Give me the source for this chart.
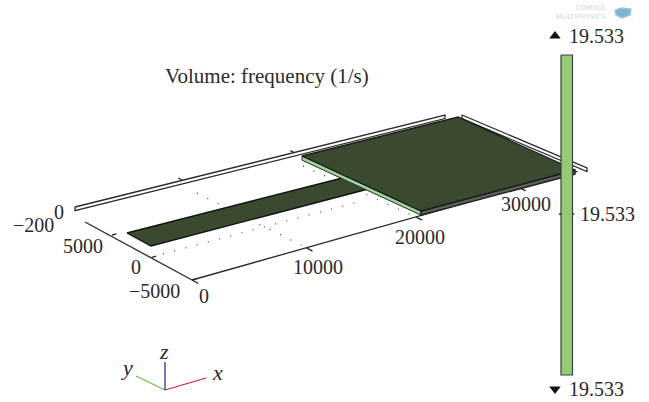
import numpy as np, plotly.graph_objects as go

# --- data (model coordinates: x, y) ---
plate_x = [19670, 35417, 36298, 20608]
plate_y = [10260, 10502, -4556, -4231]
strip_x = [1004, 1048, 20268, 19940]
strip_y = [4716, 1749, 1740, 4736]
band_long_x = [697, 34763]
band_long_y = [10884, 11467]
band_short_x = [35994, 37443]
band_short_y = [10697, -4791]
dots_long_x = [925, 18030]
dots_long_y = [47, 67]
dots_x1 = [9028, 9548]
dots_y1 = [8320, -4800]
dots_x2 = [18531, 19578]
dots_y2 = [8473, -4973]
x_tick_pos = [0, 9548, 19578, 30000]
x_tick_text = ["0", "10000", "20000", "30000"]
y_tick_pos = [-5000, 0, 5000]
y_tick_text = ["\u22125000", "0", "5000"]
z_tick_text = ["0", "\u2212200"]
freq_min = freq_mid = freq_max = "19.533"
title_text = "Volume: frequency (1/s)"

# --- view: calibration of the model plane to the 649x402 view ---
src = [(0, -5000), (30000, -5000), (0, 5000), (30000, 5000)]
dst = [(192, 280), (520, 188), (112, 235), (446, 150)]
A, b = [], []
for (x, y), (u, v) in zip(src, dst):
    A.append([x, y, 1, 0, 0, 0, -u * x, -u * y]); b.append(u)
    A.append([0, 0, 0, x, y, 1, -v * x, -v * y]); b.append(v)
H = np.append(np.linalg.solve(np.array(A, float), np.array(b, float)), 1).reshape(3, 3)
Z_SCALE = 0.018

def proj(xs, ys, z=0):
    xs, ys = np.asarray(xs, float), np.asarray(ys, float)
    w = H[2, 0] * xs + H[2, 1] * ys + 1
    u = (H[0, 0] * xs + H[0, 1] * ys + H[0, 2]) / w
    v = (H[1, 0] * xs + H[1, 1] * ys + H[1, 2]) / w
    return u.tolist(), (v - z * Z_SCALE).tolist()

fig = go.Figure()
INK = "#2a2a2a"
FONT = "Liberation Serif"

def line(u, v, color=INK, width=1.3, dash=None, fill=None, fillcolor=None):
    fig.add_trace(go.Scatter(x=u, y=v, mode="lines", hoverinfo="skip", showlegend=False,
                             line=dict(color=color, width=width, dash=dash),
                             fill=fill, fillcolor=fillcolor))

def band(xs, ys):
    u0, v0 = proj(xs, ys, 0)
    u1, v1 = proj(xs, ys, -200)
    line(u0 + u1[::-1] + u0[:1], v0 + v1[::-1] + v0[:1], fill="toself", fillcolor="white")

# frame bands
band(band_long_x, band_long_y)
band(band_short_x, band_short_y)
u, v = proj([9548, 9548], [11050, 11600]); line(u, v)
u, v = proj([19578, 19578], [11150, 11700]); line(u, v)

# dotted grid
DOT = "1px,10.6px"
for xs, ys in [(dots_long_x, dots_long_y), (dots_x1, dots_y1), (dots_x2, dots_y2)]:
    u, v = proj(xs, ys)
    line(u, v, color="#222222", width=1.1, dash=DOT)

# axes and ticks
u, v = proj([0, 36298], [-5000, -4900]); line(u, v)
u, v = proj([-210, 0], [8098, -5000]); line(u, v)
for t in x_tick_pos:
    u, v = proj([t, t], [-5000, -5750]); line(u, v)
for t in y_tick_pos:
    u, v = proj([0, 350], [t, t]); line(u, v)

# strip
u, v = proj(strip_x + strip_x[:1], strip_y + strip_y[:1])
line(u, v, fill="toself", fillcolor="#3a4a31", color="#111111")

# plate sides and top
GREEN_IDX = [0, 3]
DARK_IDX = [3, 2]
SIDE_Z = -230
u0, v0 = proj([plate_x[i] for i in GREEN_IDX], [plate_y[i] for i in GREEN_IDX], 0)
u1, v1 = proj([plate_x[i] for i in GREEN_IDX], [plate_y[i] for i in GREEN_IDX], SIDE_Z)
line(u0 + u1[::-1] + u0[:1], v0 + v1[::-1] + v0[:1], fill="toself", fillcolor="#9fd69a", color="#2a2a2a", width=1)
u0, v0 = proj([plate_x[i] for i in DARK_IDX], [plate_y[i] for i in DARK_IDX], 0)
u1, v1 = proj([plate_x[i] for i in DARK_IDX], [plate_y[i] for i in DARK_IDX], SIDE_Z)
line(u0 + u1[::-1] + u0[:1], v0 + v1[::-1] + v0[:1], fill="toself", fillcolor="#5a5f58", color="#1c1c1c")
u, v = proj(plate_x + plate_x[:1], plate_y + plate_y[:1])
line(u, v, fill="toself", fillcolor="#3a4a31", color="#1a1a1a")

# colour bar
cb_l, cb_r, cb_t, cb_b = 561, 572.5, 55, 375
line([cb_l, cb_r, cb_r, cb_l, cb_l], [cb_t, cb_t, cb_b, cb_b, cb_t], color="#3d3d3d", width=1.2,
     fill="toself", fillcolor="#93cc75")
line([cb_l - 2, cb_l], [214, 214])
line([cb_r, cb_r + 2], [214, 214])
fig.add_trace(go.Scatter(x=[555, 555], y=[36, 389], mode="markers", hoverinfo="skip", showlegend=False,
                         marker=dict(symbol=["triangle-up", "triangle-down"], size=10, color="#111111")))

# triad
line([165, 206], [390, 378], color="#c0272d", width=1.2)
line([165, 136], [390, 376], color="#6fbf44", width=1.2)
line([165, 165], [390, 362], color="#1b1f7a", width=1.2)

def label(u, v, text, size=20, color=INK, anchor="center", family=FONT, align="center"):
    fig.add_annotation(x=u, y=v, xref="x", yref="y", text=text, showarrow=False, xanchor=anchor, yanchor="middle",
                       align=align, font=dict(family=family, size=size, color=color))

label(266.5, 76, title_text, size=21)
for (u, v), t in zip([(204, 296), (318, 267), (420, 237), (526, 204)], x_tick_text):
    label(u, v, t)
for (u, v), t in zip([(154, 291), (136, 267), (83, 246)], y_tick_text):
    label(u, v, t)
for (u, v), t in zip([(59, 212), (33, 225)], z_tick_text):
    label(u, v, t)
label(596, 36, freq_max)
label(607, 214, freq_mid)
label(596, 389, freq_min)
label(217, 372, "<i>x</i>", size=22)
label(127, 367, "<i>y</i>", size=22)
label(164, 351, "<i>z</i>", size=22)

# logo
label(609, 12.5, "COMSOL<br>MULTIPHYSICS", size=7, color="#d3d9de", anchor="right", family="DejaVu Sans", align="right")
line([615, 622, 631, 630, 622, 616, 615], [10, 8, 9, 15, 18, 15, 10], color="#9cc6dc", fill="toself", fillcolor="#7fb6d3")

fig.update_layout(width=649, height=402, margin=dict(l=0, r=0, t=0, b=0), paper_bgcolor="white", plot_bgcolor="white",
                  xaxis=dict(range=[0, 649], visible=False, fixedrange=True),
                  yaxis=dict(range=[402, 0], visible=False, fixedrange=True))
fig.write_html("out.html", post_script="document.body.style.margin='0';", config={"displayModeBar": False})
